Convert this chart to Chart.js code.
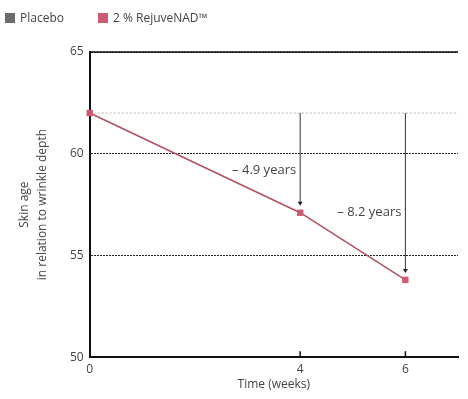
<!DOCTYPE html>
<html>
<head>
<meta charset="utf-8">
<script src="https://cdn.jsdelivr.net/npm/chart.js@4.4.0/dist/chart.umd.min.js"></script>
<style>
  html, body { margin: 0; padding: 0; background: #fff; }
  #wrap { position: relative; width: 468px; height: 399px; }
  #legend { position: absolute; left: 5px; top: 9px; font: 12px "Open Sans", sans-serif; color: #444; display: flex; }
  #legend span.item { display: flex; align-items: center; margin-right: 34px; }
  #legend span.box { width: 10px; height: 10px; margin-right: 5px; display: inline-block; }
</style>
</head>
<body>
<div id="wrap">
  <div id="legend"></div>
  <canvas id="skinChart"></canvas>
</div>
<script>
// chart data
const weeks = [0, 4, 6];
const placebo = [62, 62, 62];
const rejuvenad = [62, 57.1, 53.8];
const xTicks = [0, 4, 6];
const yTicks = [50, 55, 60, 65];

const font = '"Open Sans", "DejaVu Sans", sans-serif';

// arrows, labels, top border and small x ticks
const extras = {
  id: 'extras',
  beforeDatasetsDraw(chart) {
    const { ctx, chartArea, scales } = chart;
    const y = scales.y;
    ctx.save();
    // placebo reference line across the plot
    ctx.strokeStyle = '#b5b5b5';
    ctx.lineWidth = 1;
    ctx.setLineDash([2, 2]);
    const py = y.getPixelForValue(placebo[0]);
    ctx.beginPath();
    ctx.moveTo(chartArea.left, py);
    ctx.lineTo(chartArea.right, py);
    ctx.stroke();
    ctx.restore();
  },
  afterDatasetsDraw(chart) {
    const { ctx, chartArea, scales } = chart;
    const x = scales.x, y = scales.y;
    ctx.save();

    // top border
    ctx.strokeStyle = '#111';
    ctx.lineWidth = 1.5;
    ctx.beginPath();
    ctx.moveTo(chartArea.left, chartArea.top);
    ctx.lineTo(chartArea.right, chartArea.top);
    ctx.stroke();

    // tick marks on x axis
    ctx.lineWidth = 1.5;
    xTicks.forEach(t => {
      if (t === 0) return;
      const tx = x.getPixelForValue(t);
      ctx.beginPath();
      ctx.moveTo(tx, chartArea.bottom);
      ctx.lineTo(tx, chartArea.bottom - 6);
      ctx.stroke();
    });

    // difference arrows
    for (let i = 1; i < weeks.length; i++) {
      const ax = x.getPixelForValue(weeks[i]);
      const y0 = y.getPixelForValue(placebo[i]);
      const y1 = y.getPixelForValue(rejuvenad[i]) - 7;
      ctx.strokeStyle = '#333';
      ctx.fillStyle = '#222';
      ctx.lineWidth = 1;
      ctx.beginPath();
      ctx.moveTo(ax, y0);
      ctx.lineTo(ax, y1 - 3);
      ctx.stroke();
      ctx.beginPath();
      ctx.moveTo(ax - 2.5, y1 - 4);
      ctx.lineTo(ax + 2.5, y1 - 4);
      ctx.lineTo(ax, y1);
      ctx.closePath();
      ctx.fill();

      const diff = (placebo[i] - rejuvenad[i]).toFixed(1);
      ctx.font = '13px ' + font;
      ctx.fillStyle = '#444';
      ctx.textAlign = 'right';
      ctx.textBaseline = 'middle';
      ctx.fillText('\u2013 ' + diff + ' years', ax - 4, y0 + (y1 - y0) * 0.62);
    }
    ctx.restore();
  }
};

const datasets = [
  {
    label: 'Placebo',
    data: weeks.map((w, i) => ({ x: w, y: placebo[i] })),
    borderColor: '#6b6b6b',
    backgroundColor: '#6b6b6b',
    showLine: false,
    pointRadius: 0,
    pointStyle: 'rect'
  },
  {
    label: '2 % RejuveNAD\u2122',
    data: weeks.map((w, i) => ({ x: w, y: rejuvenad[i] })),
    borderColor: '#b2505f',
    backgroundColor: '#cc5a70',
    borderWidth: 1.5,
    pointStyle: 'rect',
    pointRadius: 4.5,
    pointBorderWidth: 0,
    tension: 0,
    clip: false
  }
];

// html legend
const legendEl = document.getElementById('legend');
datasets.forEach(ds => {
  const item = document.createElement('span');
  item.className = 'item';
  const box = document.createElement('span');
  box.className = 'box';
  box.style.background = ds.backgroundColor;
  item.appendChild(box);
  item.appendChild(document.createTextNode(ds.label));
  legendEl.appendChild(item);
});

new Chart(document.getElementById('skinChart'), {
  type: 'line',
  data: { datasets },
  options: {
    responsive: true,
    maintainAspectRatio: false,
    animation: false,
    layout: { padding: { left: 0, right: 10, top: 52, bottom: 7 } },
    plugins: {
      tooltip: { enabled: false },
      legend: { display: false }
    },
    scales: {
      x: {
        type: 'linear',
        min: 0,
        max: 7,
        afterBuildTicks: axis => { axis.ticks = xTicks.map(v => ({ value: v })); },
        grid: { display: false },
        border: { display: true, color: '#111', width: 2 },
        ticks: { color: '#444', font: { family: font, size: 12 }, padding: -3 },
        title: {
          display: true,
          text: 'Time (weeks)',
          color: '#444',
          font: { family: font, size: 12 },
          padding: { top: 4, bottom: 0 }
        }
      },
      y: {
        min: 50,
        max: 65,
        afterBuildTicks: axis => { axis.ticks = yTicks.map(v => ({ value: v })); },
        grid: { color: '#222', lineWidth: 1, drawTicks: false },
        border: { display: true, color: '#111', width: 2, dash: [2, 1] },
        ticks: { color: '#444', font: { family: font, size: 12 }, padding: 6 },
        title: {
          display: true,
          text: ['Skin age', 'in relation to wrinkle depth'],
          color: '#444',
          font: { family: font, size: 12, lineHeight: 1.5 },
          padding: { top: 16, bottom: 12 }
        }
      }
    }
  },
  plugins: [extras]
});
</script>
</body>
</html>
